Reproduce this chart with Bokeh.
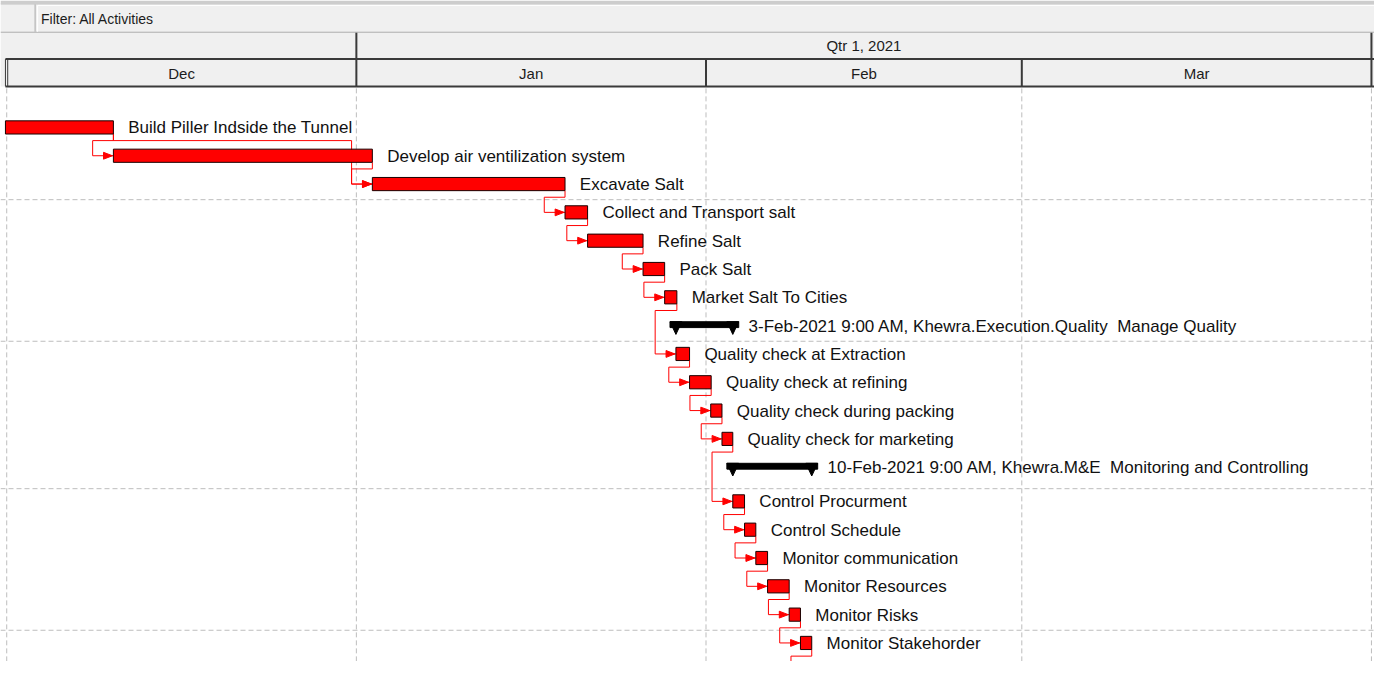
import numpy as np
import pandas as pd
from bokeh.plotting import figure
from bokeh.models import Range1d
from bokeh.core.properties import value
from bokeh.embed import file_html
from bokeh.resources import INLINE

# ---------------- data ----------------
filter_label = "Filter: All Activities"
quarter_label = "Qtr 1, 2021"
month_labels = ["Dec", "Jan", "Feb", "Mar"]
month_starts = ["2020-12-01", "2021-01-01", "2021-02-01", "2021-03-01", "2021-04-01"]

row_names = [
    "Build Piller Indside the Tunnel",
    "Develop air ventilization system",
    "Excavate Salt",
    "Collect and Transport salt",
    "Refine Salt",
    "Pack Salt",
    "Market Salt To Cities",
    "3-Feb-2021 9:00 AM, Khewra.Execution.Quality  Manage Quality",
    "Quality check at Extraction",
    "Quality check at refining",
    "Quality check during packing",
    "Quality check for marketing",
    "10-Feb-2021 9:00 AM, Khewra.M&E  Monitoring and Controlling",
    "Control Procurment",
    "Control Schedule",
    "Monitor communication",
    "Monitor Resources",
    "Monitor Risks",
    "Monitor Stakehorder",
]
row_kind = ["task"] * 7 + ["wbs"] + ["task"] * 4 + ["wbs"] + ["task"] * 6
row_start = [
    "2020-11-20 08:00", "2020-12-10 11:00", "2021-01-02 10:00", "2021-01-19 12:00",
    "2021-01-21 12:00", "2021-01-26 10:00", "2021-01-28 08:00",
    "2021-01-29 08:00",
    "2021-01-29 08:00", "2021-01-30 13:00", "2021-02-01 10:00", "2021-02-02 10:00",
    "2021-02-03 09:00",
    "2021-02-03 09:00", "2021-02-04 10:00", "2021-02-05 10:00", "2021-02-06 11:00",
    "2021-02-08 09:00", "2021-02-09 09:00",
]
row_finish = [
    "2020-12-10 11:00", "2021-01-02 10:00", "2021-01-19 12:00", "2021-01-21 12:00",
    "2021-01-26 10:00", "2021-01-28 08:00", "2021-01-29 10:00",
    "2021-02-03 09:00",
    "2021-01-30 13:00", "2021-02-01 11:00", "2021-02-02 10:00", "2021-02-03 09:00",
    "2021-02-10 09:00",
    "2021-02-04 10:00", "2021-02-05 10:00", "2021-02-06 11:00", "2021-02-08 09:00",
    "2021-02-09 09:00", "2021-02-10 09:00",
]
# finish-to-start relationships (index 19 = next activity, below the visible area)
link_from = [0, 0, 1, 2, 3, 4, 5, 6, 8, 9, 10, 11, 13, 14, 15, 16, 17, 18]
link_to = [1, 2, 2, 3, 4, 5, 6, 8, 9, 10, 11, 13, 14, 15, 16, 17, 18, 19]

# ---------------- layout (reference pixel units) ----------------
W_REF, H_REF = 1390, 677
FIG_W, FIG_H = 1374, 661
DEC1_PX = 6.3
PX_PER_DAY = 11.41
MS_PER_PX = 86400000.0 / PX_PER_DAY
ROW0, ROW_H, EXTRA_GAP, GAP_AFTER = 130, 29, 6, 12
BAR_H = 13.5
RED = "#FF0000"
DARK = "#3A3A3A"
GRID = "#BDBDBD"
FONT = value("Liberation Sans")
LABEL_SIZE = "17px"


def ms(s):
    return pd.Timestamp(s).value / 1e6


def shown(s):
    # keep doubled spaces visible in SVG text
    return s.replace("  ", " \u00a0")


x0 = ms(month_starts[0]) - DEC1_PX * MS_PER_PX
x1 = x0 + W_REF * MS_PER_PX


def px(v):
    return x0 + v * MS_PER_PX


n = len(row_names)
yc = [ROW0 + ROW_H * i + (EXTRA_GAP if i > GAP_AFTER else 0) for i in range(n + 1)]
st = [ms(s) for s in row_start]
fi = [ms(s) for s in row_finish]
mstart = [ms(s) for s in month_starts]

p = figure(width=FIG_W, height=FIG_H, output_backend="svg", toolbar_location=None,
           x_range=Range1d(x0, x1), y_range=Range1d(H_REF, 0),
           x_axis_location=None, y_axis_location=None, min_border=0,
           outline_line_color=None, background_fill_color="white",
           border_fill_color="white")
for g in p.grid:
    g.visible = False

# ---------------- header ----------------
p.quad(left=[x0], right=[x1], top=[0], bottom=[3], fill_color="#CDCDCD", line_color=None)
p.quad(left=[x0], right=[x1], top=[3], bottom=[88], fill_color="#F0F0F0", line_color=None)
p.segment(x0=[x0], y0=[3.5], x1=[x1], y1=[3.5], line_color="#B8B8B8", line_width=1)
p.segment(x0=[x0], y0=[32.5], x1=[x1], y1=[32.5], line_color="#ADADAD", line_width=1)
p.segment(x0=[px(35)], y0=[4], x1=[px(35)], y1=[32], line_color="#A8A8A8", line_width=1)
p.segment(x0=[px(37.5)], y0=[5], x1=[px(37.5)], y1=[32], line_color="#FFFFFF", line_width=1)
p.segment(x0=[px(37.5)], y0=[5], x1=[x1], y1=[5], line_color="#FFFFFF", line_width=1)
p.text(x=[px(41)], y=[18.5], text=[filter_label], text_font=FONT, text_font_size="14px",
       text_color="#1C1C1C", text_baseline="middle", text_align="left")

# qtr / month rows
p.segment(x0=[px(5)], y0=[60], x1=[x1], y1=[60], line_color=DARK, line_width=2)
p.segment(x0=[px(5)], y0=[88], x1=[x1], y1=[88], line_color=DARK, line_width=2)
p.segment(x0=[mstart[1], mstart[-1]], y0=[33, 33], x1=[mstart[1], mstart[-1]], y1=[88, 88],
          line_color=DARK, line_width=2)
p.segment(x0=mstart[2:4], y0=[60, 60], x1=mstart[2:4], y1=[88, 88],
          line_color=DARK, line_width=2)
p.segment(x0=[px(5), px(7.3)], y0=[60, 60], x1=[px(5), px(7.3)], y1=[88, 88],
          line_color=DARK, line_width=1)
p.text(x=[(mstart[1] + mstart[-1]) / 2], y=[46], text=[quarter_label], text_font=FONT,
       text_font_size="15px", text_color="#1C1C1C", text_baseline="middle", text_align="center")
mid = [(a + b) / 2 for a, b in zip(mstart[:-1], mstart[1:])]
p.text(x=mid, y=[74.5] * len(mid), text=month_labels, text_font=FONT,
       text_font_size="15px", text_color="#1C1C1C", text_baseline="middle", text_align="center")

# ---------------- grid (sight lines) ----------------
p.segment(x0=mstart, y0=[90] * len(mstart), x1=mstart, y1=[H_REF] * len(mstart),
          line_color=GRID, line_width=1, line_dash="5 3")
hy = [yc[k] - 13 for k in range(3, n, 5)]
p.segment(x0=[x0] * len(hy), y0=hy, x1=[x1] * len(hy), y1=hy,
          line_color=GRID, line_width=1, line_dash="5 3")

# ---------------- relationship lines ----------------
xs, ys, ax, ay = [], [], [], []
for a, b in zip(link_from, link_to):
    pe = fi[a]
    sb = st[b] if b < n else fi[a]
    yb = yc[b]
    ydrop = yc[a] + 13.5
    xv = sb - 21 * MS_PER_PX
    xs.append([pe, pe, xv, xv, sb])
    ys.append([yc[a] + BAR_H / 2, ydrop, ydrop, yb, yb])
    ax.append([sb - 10 * MS_PER_PX, sb - 1 * MS_PER_PX, sb - 10 * MS_PER_PX])
    ay.append([yb - 3.5, yb, yb + 3.5])
p.multi_line(xs=xs, ys=ys, line_color=RED, line_width=1)
p.patches(xs=ax, ys=ay, fill_color=RED, line_color=RED, line_width=1)

# ---------------- bars ----------------
left_clip = px(5)
ti = [i for i in range(n) if row_kind[i] == "task"]
p.quad(left=[max(st[i], left_clip) for i in ti], right=[fi[i] for i in ti],
       top=[yc[i] - BAR_H / 2 for i in ti], bottom=[yc[i] + BAR_H / 2 for i in ti],
       fill_color=RED, line_color="#1A0000", line_width=1)
p.text(x=[fi[i] + 15 * MS_PER_PX for i in ti], y=[yc[i] + 0.5 for i in ti],
       text=[shown(row_names[i]) for i in ti], text_font=FONT, text_font_size=LABEL_SIZE,
       text_color="#111111", text_baseline="middle", text_align="left")

wi = [i for i in range(n) if row_kind[i] == "wbs"]
p.quad(left=[st[i] - 6 * MS_PER_PX for i in wi], right=[fi[i] + 6 * MS_PER_PX for i in wi],
       top=[yc[i] - 4 for i in wi], bottom=[yc[i] + 2 for i in wi],
       fill_color="black", line_color="black", line_width=1)
txs, tys = [], []
for i in wi:
    for e in (st[i], fi[i]):
        txs.append([e - 6 * MS_PER_PX, e + 6 * MS_PER_PX, e])
        tys.append([yc[i] - 4, yc[i] - 4, yc[i] + 9])
p.patches(xs=txs, ys=tys, fill_color="black", line_color="black", line_width=1)
p.text(x=[fi[i] + 16 * MS_PER_PX for i in wi], y=[yc[i] + 0.5 for i in wi],
       text=[shown(row_names[i]) for i in wi], text_font=FONT, text_font_size=LABEL_SIZE,
       text_color="#111111", text_baseline="middle", text_align="left")

open("out.html", "w").write(file_html(p, INLINE))
